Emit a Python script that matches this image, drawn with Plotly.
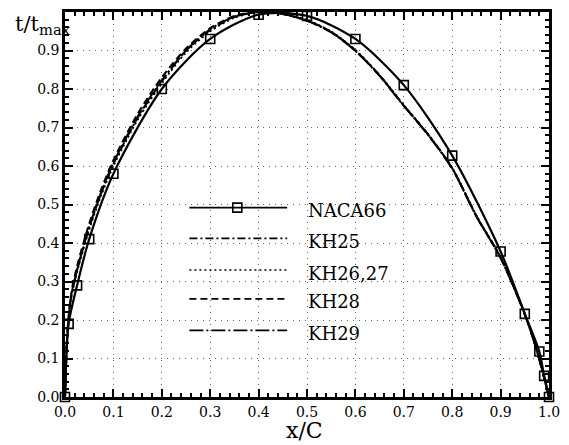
import plotly.graph_objects as go

# NACA66 reference section (stations with markers)
naca_x = [0.0, 0.0075, 0.025, 0.05, 0.1, 0.2, 0.3, 0.4, 0.5, 0.6, 0.7, 0.8, 0.9, 0.95, 0.98, 0.99, 1.0]
naca_t = [0.0, 0.19, 0.29, 0.41, 0.58, 0.80, 0.93, 0.993, 0.99, 0.93, 0.81, 0.627, 0.378, 0.216, 0.118, 0.055, 0.0]

# KH sections (common stations)
kh_x = [0.0, 0.005, 0.0125, 0.025, 0.05, 0.075, 0.1, 0.15, 0.2, 0.25, 0.3, 0.35, 0.4, 0.45,
        0.5, 0.55, 0.6, 0.65, 0.7, 0.75, 0.8, 0.85, 0.9, 0.95, 0.975, 1.0]
kh25_t = [0.0, 0.165, 0.26, 0.33, 0.44, 0.53, 0.605, 0.725, 0.82, 0.9, 0.953, 0.987, 1.0, 0.995,
          0.978, 0.948, 0.9, 0.835, 0.757, 0.682, 0.594, 0.47, 0.362, 0.215, 0.12, 0.0]
kh2627_t = [0.0, 0.16, 0.255, 0.325, 0.435, 0.525, 0.6, 0.72, 0.815, 0.895, 0.95, 0.985, 1.0, 0.996,
            0.979, 0.949, 0.901, 0.836, 0.758, 0.683, 0.595, 0.471, 0.363, 0.216, 0.12, 0.0]
kh28_t = [0.0, 0.17, 0.265, 0.34, 0.45, 0.54, 0.615, 0.735, 0.83, 0.905, 0.958, 0.99, 1.0, 0.995,
          0.978, 0.948, 0.9, 0.835, 0.757, 0.682, 0.594, 0.47, 0.362, 0.215, 0.12, 0.0]
kh29_t = [0.0, 0.165, 0.26, 0.33, 0.442, 0.533, 0.608, 0.728, 0.822, 0.9, 0.955, 0.988, 1.0, 0.995,
          0.977, 0.947, 0.899, 0.834, 0.756, 0.681, 0.593, 0.469, 0.361, 0.214, 0.12, 0.0]

legend_names = ["NACA66", "KH25", "KH26,27", "KH28", "KH29"]
y_ticks = [0.0, 0.1, 0.2, 0.3, 0.4, 0.5, 0.6, 0.7, 0.8, 0.9]
x_ticks = [0.0, 0.1, 0.2, 0.3, 0.4, 0.5, 0.6, 0.7, 0.8, 0.9, 1.0]

FONT = "DejaVu Serif"
dashes = {"KH25": "8px,3px,2px,3px", "KH26,27": "2px,3px", "KH28": "7px,4px", "KH29": "14px,3px,2px,3px"}

fig = go.Figure()
for name, t in [("KH25", kh25_t), ("KH26,27", kh2627_t), ("KH28", kh28_t), ("KH29", kh29_t)]:
    fig.add_trace(go.Scatter(x=kh_x, y=t, mode="lines", name=name, showlegend=False,
                             line=dict(color="black", width=2, dash=dashes[name], shape="spline", smoothing=0.8),
                             cliponaxis=False))
fig.add_trace(go.Scatter(x=naca_x, y=naca_t, mode="lines+markers", name="NACA66", showlegend=False,
                         line=dict(color="black", width=2.2, shape="spline", smoothing=0.8),
                         marker=dict(symbol="square-open", size=9, color="black", line=dict(width=1.6)),
                         cliponaxis=False))

# manual legend (long samples like the reference)
leg_y = [0.492, 0.412, 0.330, 0.255, 0.173]
x0, x1, xt = 0.257, 0.459, 0.498
for i, name in enumerate(legend_names):
    dash = "solid" if name == "NACA66" else dashes[name]
    fig.add_shape(type="line", xref="x", yref="y", x0=x0, x1=x1, y0=leg_y[i], y1=leg_y[i],
                  line=dict(color="black", width=1.6, dash=dash))
    fig.add_annotation(x=xt, y=leg_y[i] - 0.008, xref="x", yref="y", text=name, showarrow=False,
                       xanchor="left", yanchor="middle", font=dict(family=FONT, size=18, color="black"))
fig.add_trace(go.Scatter(x=[(x0 + x1) / 2 - 0.002], y=[leg_y[0]], mode="markers", showlegend=False,
                         marker=dict(symbol="square", size=9, color="white", line=dict(color="black", width=1.6)),
                         hoverinfo="skip"))

axis_common = dict(
    showline=True, linecolor="black", linewidth=2.5, mirror="allticks",
    ticks="inside", ticklen=8, tickwidth=1.8, tickcolor="black",
    showgrid=True, gridcolor="#666", gridwidth=1, griddash="1px,5px",
    zeroline=False,
    tickfont=dict(family=FONT, size=14, color="black"),
    minor=dict(ticks="inside", ticklen=4, tickwidth=1.5, tickcolor="black", dtick=0.02, showgrid=False),
)
fig.update_xaxes(range=[0, 1.0], tickvals=x_ticks, ticktext=[f"{v:.1f}" for v in x_ticks], **axis_common)
fig.update_yaxes(range=[0, 1.0], tickvals=y_ticks, ticktext=[f"{v:.1f}" for v in y_ticks], **axis_common)

fig.add_annotation(xref="paper", yref="paper", x=-0.108, y=1.005, xanchor="left", yanchor="top",
                   text="t/t<sub>max</sub>", showarrow=False, font=dict(family=FONT, size=21, color="black"))
fig.add_annotation(xref="paper", yref="paper", x=0.494, y=-0.0876, xanchor="center", yanchor="middle",
                   text="x/C", showarrow=False, font=dict(family=FONT, size=22, color="black"))

fig.update_layout(width=569, height=445, margin=dict(l=65, r=18, t=9, b=48),
                  plot_bgcolor="white", paper_bgcolor="white", showlegend=False)
fig.write_html("out.html")
